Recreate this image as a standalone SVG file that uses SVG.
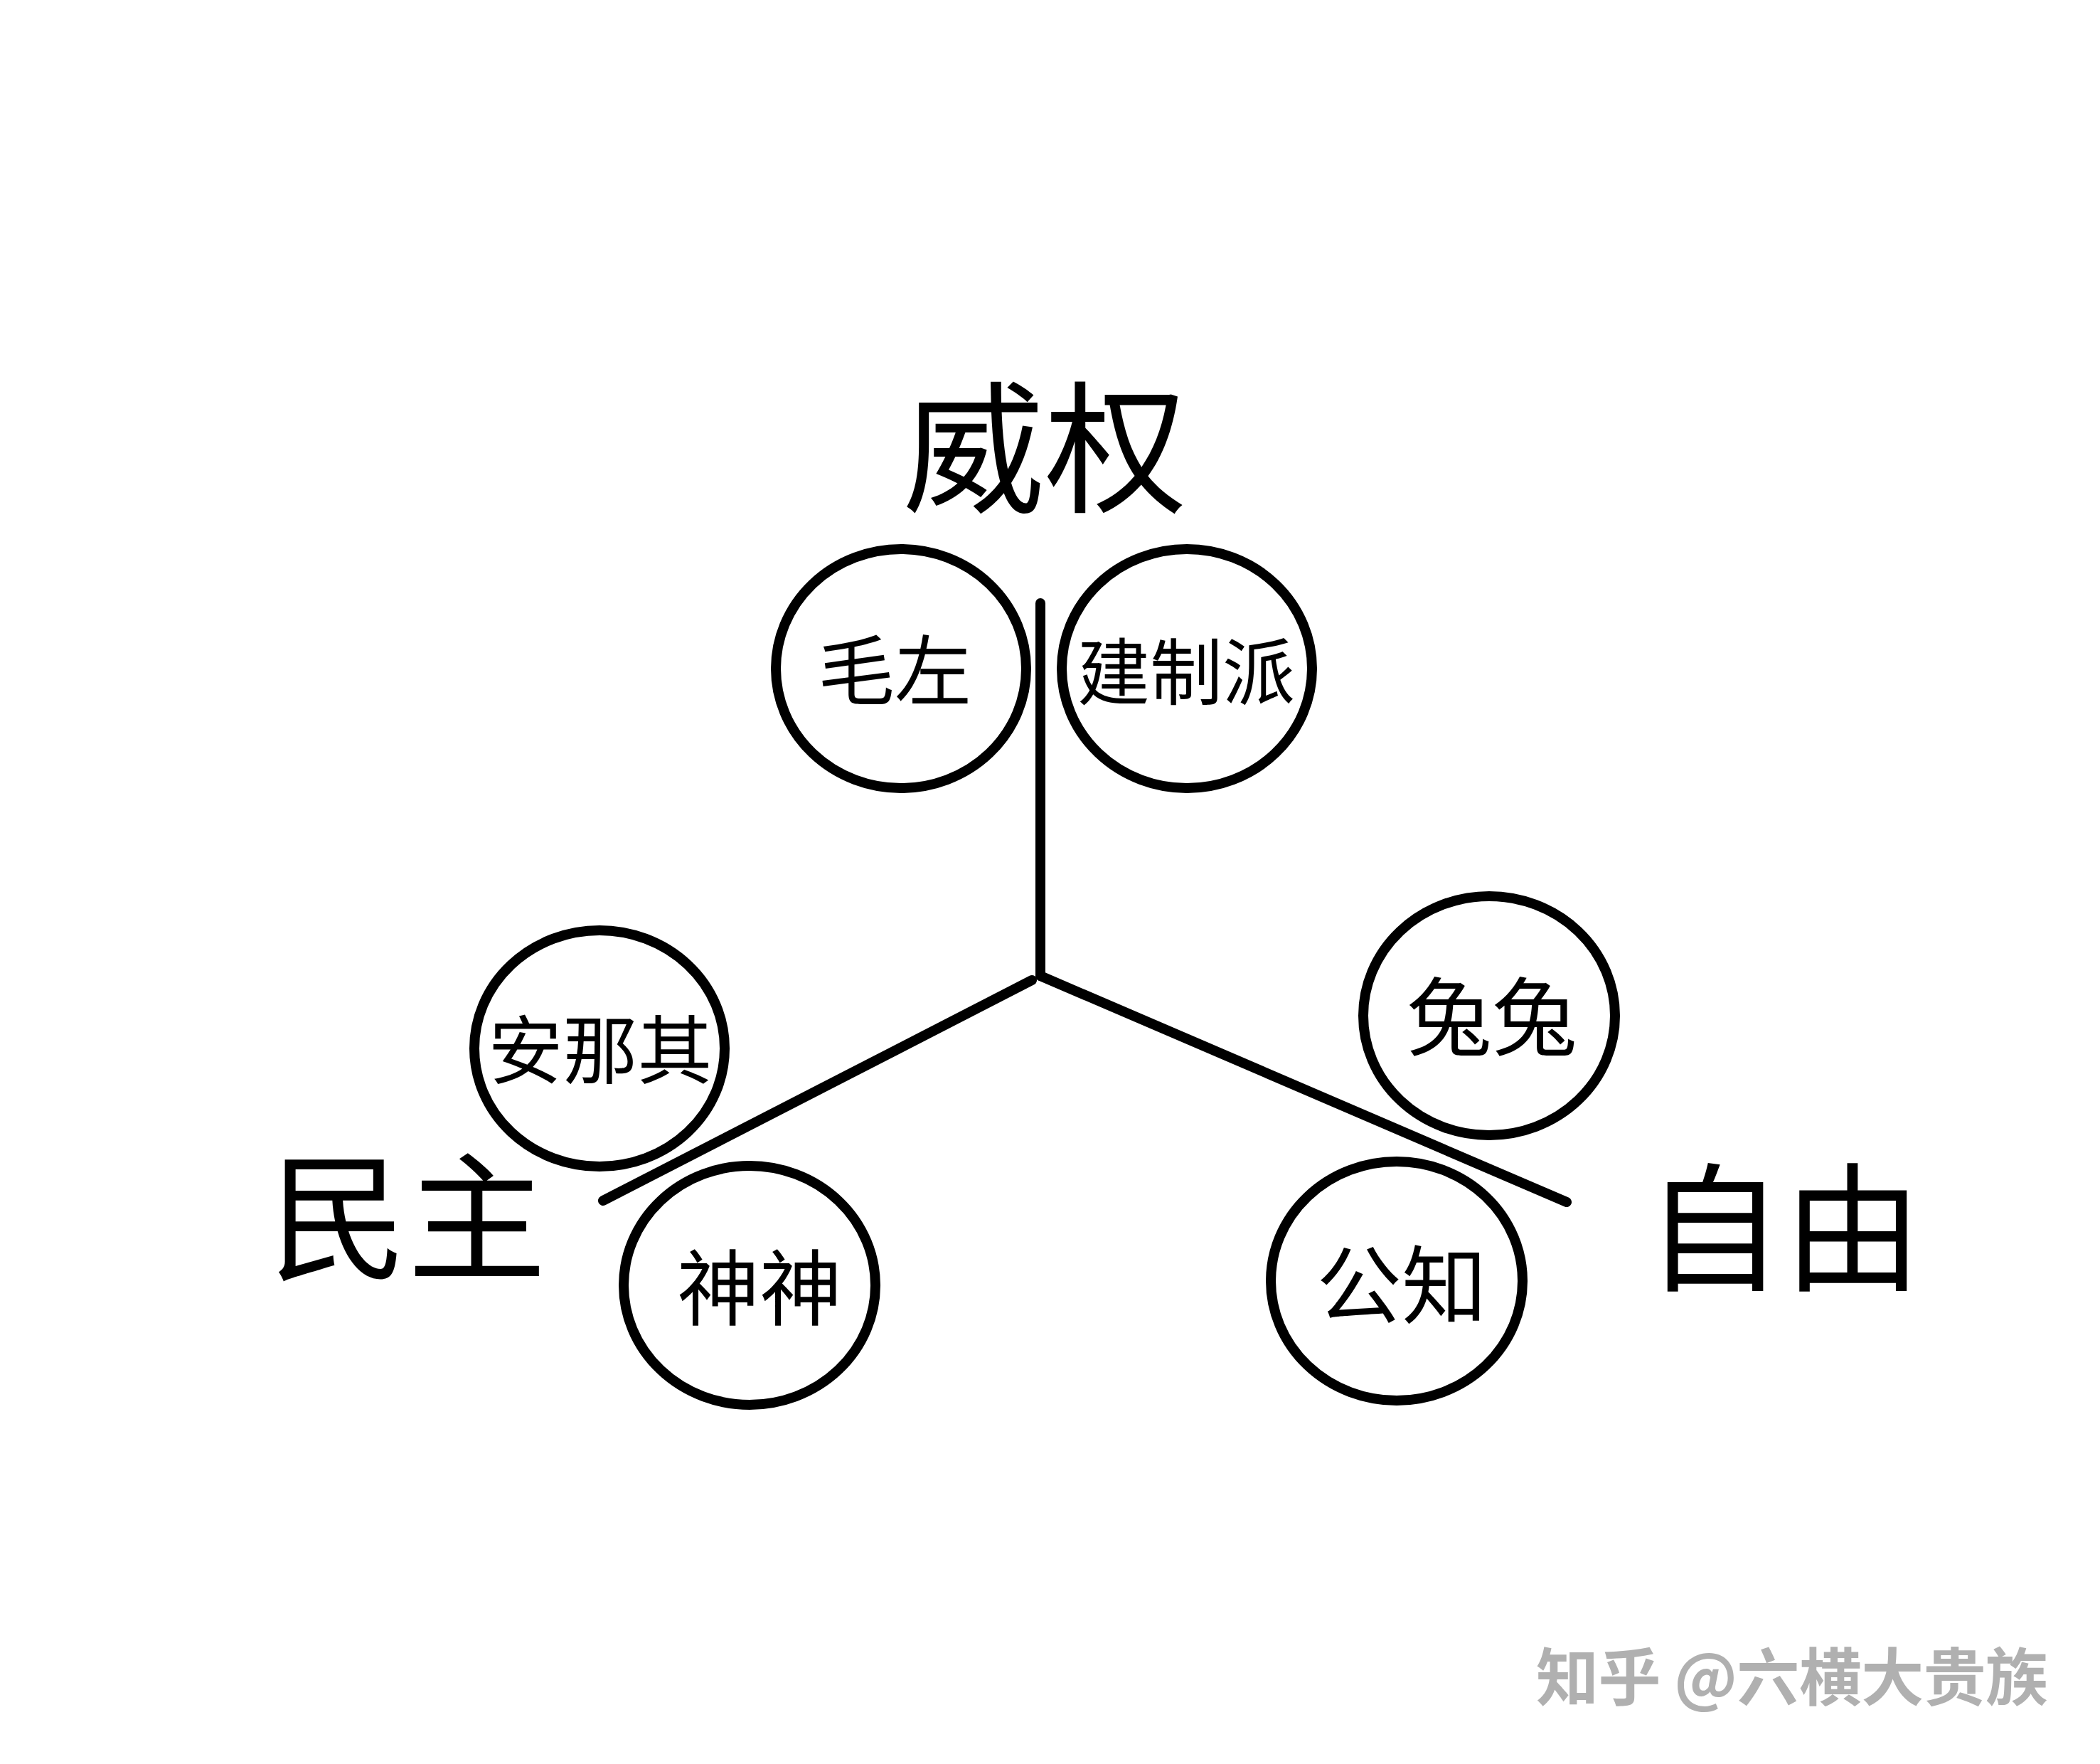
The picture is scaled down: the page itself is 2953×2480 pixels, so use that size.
<svg xmlns="http://www.w3.org/2000/svg" width="2953" height="2480" viewBox="0 0 2953 2480">
<style>
.bg{fill:#ffffff}
.c{fill:none;stroke:#000;stroke-width:14}
.ln{fill:none;stroke:#000;stroke-width:14;stroke-linecap:round}
.t{font-family:"Noto Sans CJK SC","Noto Sans CJK JP",sans-serif;fill:#000;text-anchor:middle;dominant-baseline:central}
.wm{font-family:"Noto Sans CJK SC","Noto Sans CJK JP",sans-serif;fill:#b0b0b0;font-weight:700}
</style>
<rect class="bg" x="0" y="0" width="2953" height="2480"/>
<g id="connectors">
<path class="ln" d="M1463 848 L1463 1372"/>
<path class="ln" d="M1463 1372 L2203 1690"/>
<path class="ln" d="M1451 1378 L848 1688"/>
</g>
<g id="axis-weiquan"><text class="t" x="1469" y="618" font-size="200">威权</text></g>
<g id="axis-minzhu"><text class="t" x="573" y="1700" font-size="195">民主</text></g>
<g id="axis-ziyou"><text class="t" x="2508" y="1715" font-size="195">自由</text></g>
<g id="node-maozuo">
<ellipse class="c" cx="1267" cy="940" rx="176" ry="168"/>
<text class="t" x="1258" y="936" font-size="108">毛左</text>
</g>
<g id="node-jianzhipai">
<ellipse class="c" cx="1669" cy="940" rx="176" ry="168"/>
<text class="t" x="1668" y="938" font-size="102">建制派</text>
</g>
<g id="node-annaqi">
<ellipse class="c" cx="843" cy="1474" rx="176" ry="166"/>
<text class="t" x="844" y="1469" font-size="105">安那其</text>
</g>
<g id="node-shenshen">
<ellipse class="c" cx="1054" cy="1807" rx="177" ry="168"/>
<text class="t" x="1068" y="1803" font-size="116">神神</text>
</g>
<g id="node-tutu">
<ellipse class="c" cx="2094" cy="1428" rx="177" ry="168"/>
<text class="t" x="2098" y="1423" font-size="120">兔兔</text>
</g>
<g id="node-gongzhi">
<ellipse class="c" cx="1964" cy="1801" rx="177" ry="168"/>
<text class="t" x="1971" y="1800" font-size="120">公知</text>
</g>
<g id="watermark"><text class="wm" x="2160" y="2390" font-size="88" textLength="720" lengthAdjust="spacing">知乎 @六横大贵族</text></g>
</svg>
